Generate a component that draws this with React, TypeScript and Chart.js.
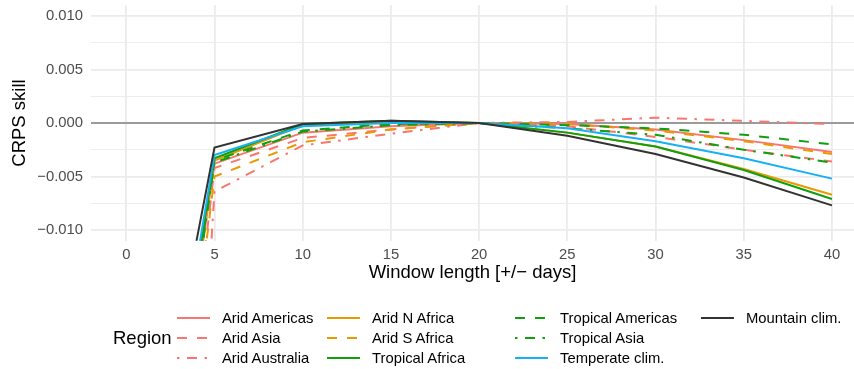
import React, { useEffect, useRef } from "react";
import { Chart, registerables } from "chart.js";
Chart.register(...registerables);

const windows = [0, 5, 10, 15, 20, 25, 30, 35, 40];
const regionNames = [
  "Arid Americas",
  "Arid Asia",
  "Arid Australia",
  "Arid N Africa",
  "Arid S Africa",
  "Tropical Africa",
  "Tropical Americas",
  "Tropical Asia",
  "Temperate clim.",
  "Mountain clim.",
];
const aridAmericas = [-0.06, -0.0038, -0.0009, -0.0003, 0, -0.0001, -0.0006, -0.0016, -0.0027];
const aridAsia = [-0.075, -0.0042, -0.0014, -0.0006, 0, -0.0003, -0.0013, -0.0025, -0.0036];
const aridAustralia = [-0.14, -0.0064, -0.0021, -0.001, 0, 0.0001, 0.0005, 0.0002, -0.0001];
const aridNAfrica = [-0.058, -0.0035, -0.0002, 0.0001, 0, -0.0009, -0.0022, -0.0043, -0.0067];
const aridSAfrica = [-0.072, -0.005, -0.0018, -0.0006, 0, -0.0001, -0.0007, -0.0017, -0.0029];
const tropicalAfrica = [-0.055, -0.0033, -0.0001, 0.0002, 0, -0.0009, -0.0022, -0.0044, -0.0071];
const tropicalAmericas = [-0.058, -0.0035, -0.0007, -0.0001, 0, -0.0002, -0.0005, -0.0011, -0.002];
const tropicalAsia = [-0.06, -0.0037, -0.0008, -0.0002, 0, -0.0005, -0.0011, -0.0025, -0.0037];
const temperateClim = [-0.052, -0.003, -0.0003, 0.0, 0, -0.0005, -0.0017, -0.0033, -0.0052];
const mountainClim = [-0.045, -0.0023, -0.0001, 0.0002, 0, -0.0012, -0.0029, -0.0051, -0.0077];
const seriesValues = [
  aridAmericas, aridAsia, aridAustralia, aridNAfrica, aridSAfrica,
  tropicalAfrica, tropicalAmericas, tropicalAsia, temperateClim, mountainClim,
];
const xTicks = [0, 5, 10, 15, 20, 25, 30, 35, 40];
const yTicks = [-0.01, -0.0075, -0.005, -0.0025, 0, 0.0025, 0.005, 0.0075, 0.01];

const SALMON = "#F8766D";
const ORANGE = "#E99A00";
const GREEN = "#0F9F0F";
const BLUE = "#16B1F2";
const DARK = "#333333";
const SOLID: number[] = [];
const DASHED = [10, 10];
const DOTDASH = [2.5, 7.5, 10, 7.5];
const seriesColors = [SALMON, SALMON, SALMON, ORANGE, ORANGE, GREEN, GREEN, GREEN, BLUE, DARK];
const seriesDash = [SOLID, DASHED, DOTDASH, SOLID, DASHED, SOLID, DASHED, DOTDASH, SOLID, SOLID];

const FONT = "'Liberation Sans', Arial, Helvetica, sans-serif";

const isMajor = (v: number) => Math.abs(v * 200 - Math.round(v * 200)) < 1e-6;
const fmt = (v: number) => {
  if (Math.abs(v) < 1e-12) return "0.000";
  return (v < 0 ? "\u2212" : "") + Math.abs(v).toFixed(3);
};

const zeroLine = {
  id: "zeroLine",
  beforeDatasetsDraw(chart: any) {
    const { ctx, chartArea, scales } = chart;
    const y = scales.y.getPixelForValue(0);
    ctx.save();
    ctx.strokeStyle = "#7F7F7F";
    ctx.lineWidth = 1.6;
    ctx.beginPath();
    ctx.moveTo(chartArea.left, y);
    ctx.lineTo(chartArea.right, y);
    ctx.stroke();
    ctx.restore();
  },
};

function LegendKey({ color, dash }: { color: string; dash: number[] }) {
  return (
    <svg width={33} height={20} style={{ position: "absolute", left: 0, top: 0 }}>
      <line
        x1={0}
        y1={10}
        x2={33}
        y2={10}
        stroke={color}
        strokeWidth={2.2}
        strokeDasharray={dash.length ? dash.join(" ") : undefined}
      />
    </svg>
  );
}

export default function App() {
  const ref = useRef<HTMLCanvasElement | null>(null);

  useEffect(() => {
    document.body.style.margin = "0";
    if (!ref.current) return;
    const datasets = regionNames.map((name, i) => ({
      label: name,
      data: windows.map((w, j) => ({ x: w, y: seriesValues[i][j] })),
      borderColor: seriesColors[i],
      backgroundColor: seriesColors[i],
      borderDash: seriesDash[i],
      borderWidth: 2,
      borderCapStyle: "butt" as const,
      pointRadius: 0,
      tension: 0,
      fill: false,
      order: regionNames.length - 1 - i,
    }));
    const chart = new Chart(ref.current, {
      type: "line",
      data: { datasets },
      plugins: [zeroLine],
      options: {
        animation: false,
        responsive: false,
        maintainAspectRatio: false,
        layout: { padding: { top: 5.3, right: 0, bottom: 0, left: 0 } },
        plugins: { legend: { display: false }, tooltip: { enabled: false } },
        scales: {
          x: {
            type: "linear",
            min: -2,
            max: 41.25,
            afterBuildTicks: (s: any) => {
              s.ticks = xTicks.map((v) => ({ value: v }));
            },
            afterFit: (s: any) => {
              s.height = 369 - 240.7 - 5.3 + 5.3;
              s.paddingLeft = 0;
              s.paddingRight = 0;
            },
            border: { display: false },
            grid: { color: "#EBEBEB", lineWidth: 1.8, drawTicks: false },
            ticks: {
              padding: 5,
              color: "#4D4D4D",
              font: { family: FONT, size: 14.8 },
              maxRotation: 0,
              autoSkip: false,
              callback: (v: any) => String(v),
            },
            title: {
              display: true,
              text: "Window length [+/\u2212 days]",
              color: "#000000",
              font: { family: FONT, size: 18.5 },
              padding: { top: 0, bottom: 85 },
            },
          },
          y: {
            type: "linear",
            min: -0.011,
            max: 0.011,
            afterBuildTicks: (s: any) => {
              s.ticks = yTicks.map((v) => ({ value: v }));
            },
            afterFit: (s: any) => {
              s.width = 91;
              s.paddingTop = 0;
              s.paddingBottom = 0;
            },
            border: { display: false },
            grid: {
              color: "#EBEBEB",
              lineWidth: (c: any) => (c.tick && isMajor(c.tick.value) ? 1.8 : 0.9),
              drawTicks: false,
            },
            ticks: {
              padding: 8,
              color: "#4D4D4D",
              font: { family: FONT, size: 14.8 },
              autoSkip: false,
              callback: (v: any) => (isMajor(Number(v)) ? fmt(Number(v)) : ""),
            },
            title: {
              display: true,
              text: "CRPS skill",
              color: "#000000",
              font: { family: FONT, size: 18.5 },
              padding: { top: 9, bottom: 0 },
            },
          },
        },
      },
    });
    return () => chart.destroy();
  }, []);

  const colLabelX = [222, 372, 560, 746];
  const colKeyX = [177, 327, 515, 701];
  const rowY = [317.7, 337.7, 357.7];

  return (
    <div style={{ position: "relative", width: 854, height: 369, overflow: "hidden", fontFamily: FONT }}>
      <canvas ref={ref} width={854} height={369} style={{ position: "absolute", left: 0, top: 0 }} />
      <div
        style={{
          position: "absolute",
          left: 113,
          top: 337.7 - 12,
          height: 24,
          lineHeight: "24px",
          fontSize: 18.5,
          color: "#000",
          whiteSpace: "nowrap",
        }}
      >
        Region
      </div>
      {regionNames.map((name, i) => {
        const col = Math.floor(i / 3);
        const row = i % 3;
        return (
          <React.Fragment key={name}>
            <div style={{ position: "absolute", left: colKeyX[col], top: rowY[row] - 10, width: 33, height: 20 }}>
              <LegendKey color={seriesColors[i]} dash={seriesDash[i]} />
            </div>
            <div
              style={{
                position: "absolute",
                left: colLabelX[col],
                top: rowY[row] - 10,
                height: 20,
                lineHeight: "20px",
                fontSize: 14.8,
                color: "#000",
                whiteSpace: "nowrap",
              }}
            >
              {name}
            </div>
          </React.Fragment>
        );
      })}
    </div>
  );
}
